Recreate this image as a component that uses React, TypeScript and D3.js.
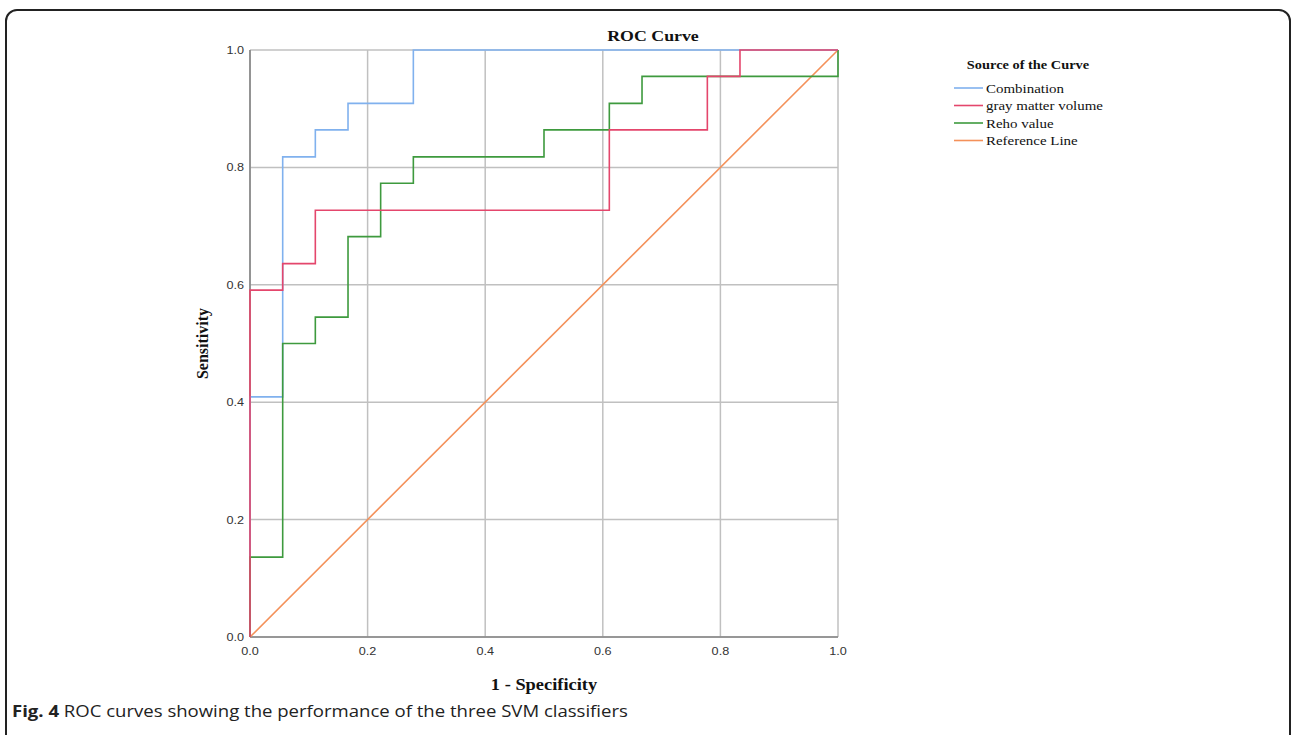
import React from "react";
import * as d3 from "d3";

const ticks = [0, 0.2, 0.4, 0.6, 0.8, 1.0];

// step points (1 - specificity, sensitivity)
const combinationFpr = [0, 0, 0.0556, 0.0556, 0.1111, 0.1111, 0.1667, 0.1667, 0.2778, 0.2778, 1.0];
const combinationTpr = [0, 0.409, 0.409, 0.818, 0.818, 0.864, 0.864, 0.909, 0.909, 1.0, 1.0];

const grayFpr = [0, 0, 0.0556, 0.0556, 0.1111, 0.1111, 0.6111, 0.6111, 0.7778, 0.7778, 0.8333, 0.8333, 1.0];
const grayTpr = [0, 0.591, 0.591, 0.636, 0.636, 0.727, 0.727, 0.864, 0.864, 0.955, 0.955, 1.0, 1.0];

const rehoFpr = [0, 0, 0.0556, 0.0556, 0.1111, 0.1111, 0.1667, 0.1667, 0.2222, 0.2222, 0.2778, 0.2778, 0.5, 0.5, 0.6111, 0.6111, 0.6667, 0.6667, 1.0, 1.0];
const rehoTpr = [0, 0.136, 0.136, 0.5, 0.5, 0.545, 0.545, 0.682, 0.682, 0.773, 0.773, 0.818, 0.818, 0.864, 0.864, 0.909, 0.909, 0.955, 0.955, 1.0];

const refFpr = [0, 1];
const refTpr = [0, 1];

const seriesNames = ["Combination", "gray matter volume", "Reho value", "Reference Line"];
const seriesColors = ["#80b1ee", "#e4466c", "#3e9a3e", "#f4915a"];

const SX = 1.15;

function SText(props: {
  x: number;
  y: number;
  anchor?: "start" | "middle" | "end";
  size: number;
  bold?: boolean;
  family: string;
  fill?: string;
  sx?: number;
  rotate?: number;
  children: React.ReactNode;
}) {
  const { x, y, anchor = "start", size, bold, family, fill = "#111", sx = SX, rotate = 0 } = props;
  return (
    <g transform={`translate(${x},${y}) rotate(${rotate}) scale(${sx},1)`}>
      <text x={0} y={0} textAnchor={anchor} fontSize={size} fontWeight={bold ? "bold" : "normal"} fontFamily={family} fill={fill}>
        {props.children}
      </text>
    </g>
  );
}

export default function App() {
  const x = d3.scaleLinear().domain([0, 1]).range([250, 838]);
  const y = d3.scaleLinear().domain([0, 1]).range([637, 50]);
  const line = d3
    .line<[number, number]>()
    .x((d) => x(d[0]))
    .y((d) => y(d[1]));
  const zip = (a: number[], b: number[]) => a.map((v, i) => [v, b[i]] as [number, number]);
  const series = [
    zip(combinationFpr, combinationTpr),
    zip(grayFpr, grayTpr),
    zip(rehoFpr, rehoTpr),
    zip(refFpr, refTpr),
  ];
  const order = [3, 0, 2, 1];
  const serif = "'Liberation Serif', 'DejaVu Serif', serif";
  const sans = "'Liberation Sans', Arial, sans-serif";
  const legendStep = 17.5;
  return (
    <svg
      width={1292}
      height={735}
      style={{ position: "absolute", left: 0, top: 0, background: "#fff" }}
    >
      <rect x={6} y={10} width={1284} height={740} rx={11} ry={11} fill="#fff" stroke="#222" strokeWidth={2} />
      {/* grid */}
      {ticks.map((t) => (
        <g key={"g" + t}>
          <line x1={x(t)} x2={x(t)} y1={y(0)} y2={y(1)} stroke="#c0c0c0" strokeWidth={1.5} />
          <line x1={x(0)} x2={x(1)} y1={y(t)} y2={y(t)} stroke="#c0c0c0" strokeWidth={1.5} />
        </g>
      ))}
      {/* axes */}
      <line x1={x(0)} x2={x(0)} y1={y(0)} y2={y(1)} stroke="#858585" strokeWidth={1.6} />
      <line x1={x(0)} x2={x(1)} y1={y(0)} y2={y(0)} stroke="#858585" strokeWidth={1.6} />
      {/* curves */}
      {order.map((i) => (
        <path key={i} d={line(series[i]) || ""} fill="none" stroke={seriesColors[i]} strokeWidth={1.6} />
      ))}
      {/* tick labels */}
      {ticks.map((t) => (
        <SText key={"yl" + t} x={x(0) - 6} y={y(t) + 4} anchor="end" size={11.5} family={sans} fill="#333" sx={1.1}>
          {t.toFixed(1)}
        </SText>
      ))}
      {ticks.map((t) => (
        <SText key={"xl" + t} x={x(t)} y={y(0) + 18} anchor="middle" size={11.5} family={sans} fill="#333" sx={1.1}>
          {t.toFixed(1)}
        </SText>
      ))}
      {/* titles */}
      <SText x={653} y={41} anchor="middle" size={15.5} bold family={serif}>
        ROC Curve
      </SText>
      <SText x={x(0.5)} y={690} anchor="middle" size={16} bold family={serif}>
        1 - Specificity
      </SText>
      <SText x={208} y={y(0.5)} anchor="middle" size={16} bold family={serif} rotate={-90} sx={1}>
        Sensitivity
      </SText>
      {/* legend */}
      <SText x={1028} y={69} anchor="middle" size={12.5} bold family={serif}>
        Source of the Curve
      </SText>
      {seriesNames.map((n, i) => (
        <g key={n}>
          <line
            x1={954}
            x2={983}
            y1={88 + i * legendStep}
            y2={88 + i * legendStep}
            stroke={seriesColors[i]}
            strokeWidth={1.6}
          />
          <SText x={986} y={92.5 + i * legendStep} size={13} family={serif}>
            {n}
          </SText>
        </g>
      ))}
      {/* caption */}
      <g transform="translate(12,717) scale(1.16,1)">
        <text x={0} y={0} fontSize={16} fontFamily="'Open Sans', 'Noto Sans', sans-serif" fill="#222">
          <tspan fontWeight="bold">Fig. 4</tspan>
          <tspan> ROC curves showing the performance of the three SVM classifiers</tspan>
        </text>
      </g>
    </svg>
  );
}
